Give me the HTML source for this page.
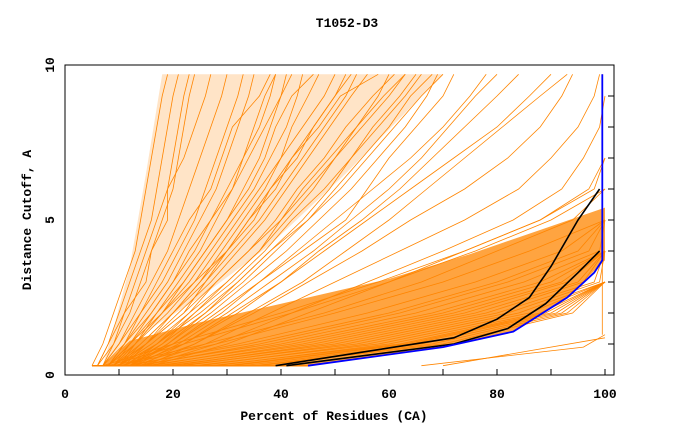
<!DOCTYPE html>
<html><head><meta charset="utf-8"><style>
html,body{margin:0;padding:0;background:#fff;}
svg text{font-family:"Liberation Mono",monospace;font-weight:bold;fill:#000;}
</style></head><body>
<svg id="chart" width="680" height="440" xmlns="http://www.w3.org/2000/svg">
<text x="347" y="27" font-size="13" text-anchor="middle">T1052-D3</text>
<g id="plot"></g>
<rect x="65" y="65" width="549" height="310" fill="none" stroke="#000" stroke-width="1"/>
<g id="axes"></g>
<text x="334" y="420" font-size="13" text-anchor="middle">Percent of Residues (CA)</text>
<text transform="translate(31,220) rotate(-90)" font-size="13" text-anchor="middle">Distance Cutoff, A</text>
</svg>
<script>
const yLevels=[0.3,1,2,3,4,5,6,7,8,9,9.7];
const fanCurves=[
[5,7,9,11,13,14,15,16,17,18,19],[6,8,10,12,14,16,17,18,19,20,21],[7,9,12,14,16,18,20,21,22,23,24],
[7,10,13,16,19,21,23,25,27,29,30],[8,11,15,19,22,25,28,30,32,34,35],[8,12,17,21,25,28,31,34,37,40,42],
[9,13,19,24,28,32,36,40,44,48,50],[10,15,21,27,32,37,41,45,49,53,56],[10,16,23,30,36,41,46,50,55,60,63],
[11,18,26,33,39,45,51,56,61,66,70],[12,20,29,36,43,50,57,64,70,75,78],[12,22,32,40,48,56,64,72,80,86,90],
[13,24,35,45,55,64,74,82,88,92,94],[14,26,38,50,62,74,84,90,95,98,99],[9,14,20,25,29,33,37,40,42,45,47],
[8,12,18,22,26,30,33,36,38,40,41],[11,17,24,31,37,42,48,53,58,63,66],[15,28,42,56,70,83,92,96,99,100],
[16,30,45,60,74,88,97,100],[7,10,14,18,21,24,26,28,30,32,33],[9,13,18,23,27,31,35,38,41,43,44],
[10,14,20,26,31,36,40,44,48,52,54],[6,9,11,13,15,17,19,20,21,22,23],[12,19,27,34,41,47,53,58,63,67,69],
[13,21,30,38,46,53,60,66,71,76,80],[6,8,11,15,16,19,19,22,24,26,27],[8,11,14,17,20,23,27,29,31,36,38],
[9,12,16,20,24,27,30,33,36,38,39],[10,13,17,22,26,30,34,37,39,42,46],[11,15,22,26,30,35,38,43,46,50,52],
[8,13,18,24,30,34,39,42,47,51,58],[12,17,23,28,34,39,43,48,52,57,61],[10,17,25,32,38,44,49,53,57,62,65],
[13,19,26,32,38,45,50,55,60,64,68],[11,20,28,36,44,52,56,60,65,70,72],[9,15,22,28,34,40,44,49,54,58,60],
[7,11,16,20,23,27,31,33,35,37,39],[14,22,31,40,47,55,62,68,74,80,84],[15,24,34,44,52,60,67,74,81,88,93],
[10,15,20,25,30,34,38,42,46,50,53],[12,18,24,30,36,40,45,50,54,59,63]
];
const bandCurves=[
[8,22,42,60,76,90,100],[10,28,50,70,86,100],[12,32,56,76,92,100],[14,36,62,82,97,100],[16,40,68,88,100],
[18,44,72,92,100],[20,48,76,95,100],[22,52,80,98,100],[25,56,84,100],[28,60,88,100],[30,63,90,100],
[33,66,92,100],[36,70,94,100],[9,26,48,66,80,94,100],[11,34,60,80,95,100],[15,42,70,90,100],
[19,50,78,96,100],[24,58,86,100],[27,62,89,100],[13,38,65,85,99,100],[17,46,74,93,100],
[21,54,82,99,100],[7,20,40,58,74,88,98,100],[31,64,91,100],[35,68,93,100]
];
const bandAreaX=[7,45,70,83,93,100,100,90,75,60,40,25,12,7];
const bandAreaY=[0.3,0.3,0.9,1.4,2.5,3.7,5.4,4.8,3.9,3.1,2.3,1.7,1.1,0.3];
const fanAreaX=[7,9,12,15,18,40,55,70,52,38,25,14,7];
const fanAreaY=[0.3,1.5,3.5,6.5,9.7,9.7,9.7,9.7,6.5,4.2,2.5,1.3,0.3];
const strayX=[[66,96,100],[70,100]];
const strayY=[[0.3,0.9,1.3],[0.3,1.2]];
const black1X=[39,72,80,86,90,95,99];
const black1Y=[0.3,1.2,1.8,2.5,3.5,5,6];
const black2X=[41,72,82,89,95,99];
const black2Y=[0.3,1.0,1.5,2.3,3.3,4];
const blueX=[45,70,83,93,98,99.5,99.5];
const blueY=[0.3,0.9,1.4,2.5,3.3,3.7,9.7];
const xTicks=[0,20,40,60,80,100];
const yTicks=[0,5,10];

const NS="http://www.w3.org/2000/svg";
const sx=v=>65+v*5.4, sy=v=>375-v*31;
const plot=document.getElementById('plot'), axes=document.getElementById('axes');
function mk(tag,attrs,parent){const e=document.createElementNS(NS,tag);for(const k in attrs)e.setAttribute(k,attrs[k]);parent.appendChild(e);return e;}
function poly(xs,ys,color,w,name){
  const pts=xs.map((x,i)=>sx(x)+","+sy(ys[i])).join(" ");
  const e=mk('polyline',{points:pts,fill:'none',stroke:color,'stroke-width':w},plot);
  
  
}
const ORANGE="#ff8500";
const fan=mk('polygon',{points:fanAreaX.map((x,i)=>sx(x)+","+sy(fanAreaY[i])).join(" "),fill:ORANGE,'fill-opacity':0.22},plot);


const area=mk('polygon',{points:bandAreaX.map((x,i)=>sx(x)+","+sy(bandAreaY[i])).join(" "),fill:ORANGE,'fill-opacity':0.75},plot);


poly([5,45],[0.3,0.3],ORANGE,1.5,'baseline-series');
fanCurves.forEach(c=>poly(c,yLevels.slice(0,c.length),ORANGE,0.8,'model-series'));
bandCurves.forEach(c=>poly(c,yLevels.slice(0,c.length),ORANGE,0.8,'model-series'));
strayX.forEach((xs,i)=>poly(xs,strayY[i],ORANGE,0.8,'model-series'));
poly([99.5,99.5],[1.3,9.7],ORANGE,0.8,'model-series');
poly(black1X,black1Y,"#000",1.6,'highlight-series-1');
poly(black2X,black2Y,"#000",1.6,'highlight-series-2');
poly(blueX,blueY,"#0000ff",1.8,'best-series');
for(let v=10;v<=100;v+=10){
  const t=mk('line',{x1:sx(v),x2:sx(v),y1:375,y2:369,stroke:'#000'},axes);
  
  
}
for(let v=1;v<=9;v++){
  const t=mk('line',{x1:608,x2:614,y1:sy(v),y2:sy(v),stroke:'#000'},axes);
  
  
}
xTicks.forEach(v=>{
  const t=mk('text',{x:sx(v),y:398,'font-size':13,'text-anchor':'middle'},axes);t.textContent=v;
  
  
});
yTicks.forEach(v=>{
  const t=mk('text',{transform:`translate(54,${sy(v)}) rotate(-90)`,'font-size':13,'text-anchor':'middle'},axes);t.textContent=v;
  
  
});
</script>
</body></html>
